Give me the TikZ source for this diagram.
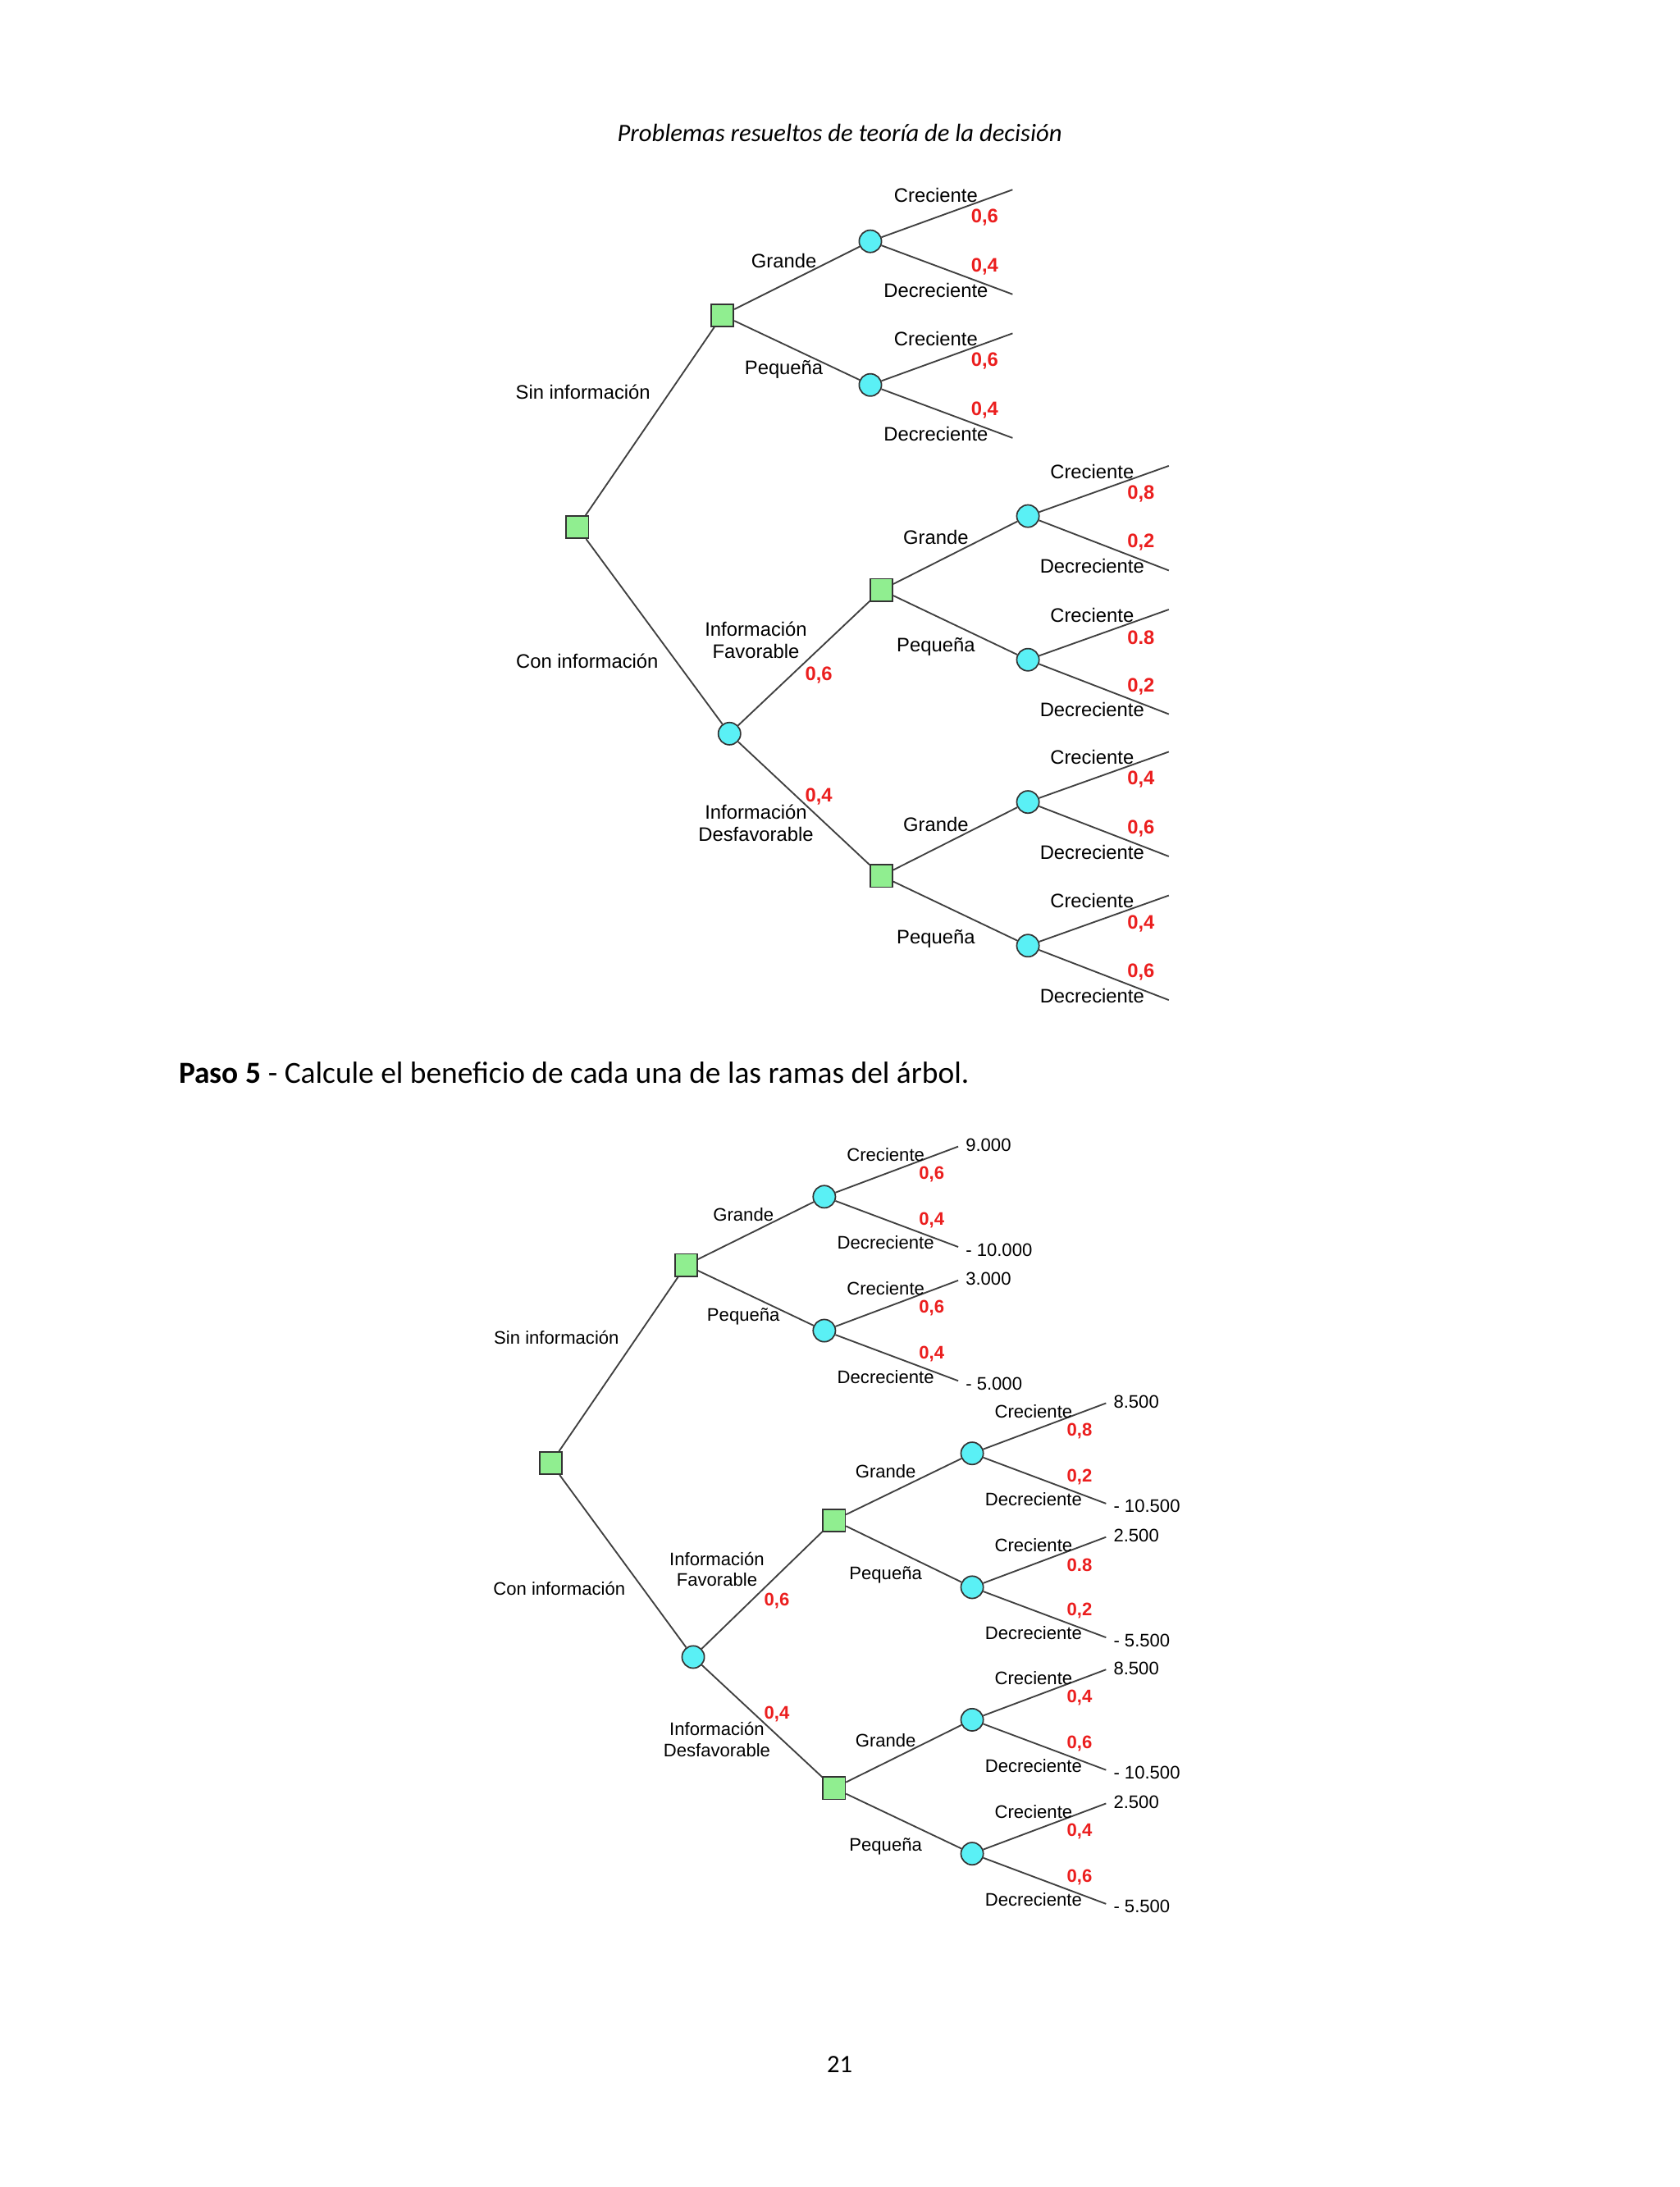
\documentclass[tikz,border=0pt]{standalone}
\usepackage{fontspec}
\setmainfont{Carlito}
\newfontfamily\arial{Liberation Sans}
\definecolor{sqg}{RGB}{144,238,144}
\definecolor{cyc}{RGB}{90,240,245}
\definecolor{pr}{RGB}{235,30,30}
\tikzset{
 dec/.style={draw=black!80,fill=sqg,minimum size=8pt,inner sep=0pt,line width=0.5pt},
 chn/.style={circle,draw=black!80,fill=cyc,minimum size=8pt,inner sep=0pt,line width=0.5pt},
 br/.style={draw=black!75,line width=0.55pt},
 lbA/.style={font=\arial\fontsize{7}{8}\selectfont,inner sep=0pt,align=center},
 lbB/.style={font=\arial\fontsize{6.5}{7.5}\selectfont,inner sep=0pt,align=center},
 pA/.style={font=\arial\bfseries\fontsize{7}{8}\selectfont,text=pr,inner sep=0pt},
 pB/.style={font=\arial\bfseries\fontsize{6.5}{7.5}\selectfont,text=pr,inner sep=0pt},
 vB/.style={font=\arial\fontsize{6.5}{7.5}\selectfont,inner sep=0pt,anchor=west}
}
\begin{document}
\begin{tikzpicture}[x=0.5pt,y=-0.5pt]
\useasboundingbox (0,0) rectangle (1204,1568);
\node at (602,95) {\itshape\fontsize{9}{11}\selectfont Problemas resueltos de teoría de la decisión};
\node[anchor=west,inner sep=0pt] at (128,769) {\fontsize{11}{13}\selectfont\textbf{Paso 5} - Calcule el beneficio de cada una de las ramas del árbol.};
\node at (602,1480) {\fontsize{9}{11}\selectfont 21};
% ---------- Tree 1 ----------
\node[dec] (r1) at (414,378) {};
\node[dec] (a1) at (518,226) {};
\node[chn] (b1) at (523,526) {};
\node[chn] (a1g) at (624,173) {};
\node[chn] (a1p) at (624,276) {};
\node[dec] (c1) at (632,423) {};
\node[dec] (d1) at (632,628) {};
\node[chn] (c1g) at (737,370) {};
\node[chn] (c1p) at (737,473) {};
\node[chn] (d1g) at (737,575) {};
\node[chn] (d1p) at (737,678) {};
\draw[br] (r1)--(a1); \draw[br] (r1)--(b1);
\draw[br] (a1)--(a1g); \draw[br] (a1)--(a1p);
\draw[br] (b1)--(c1); \draw[br] (b1)--(d1);
\draw[br] (c1)--(c1g); \draw[br] (c1)--(c1p);
\draw[br] (d1)--(d1g); \draw[br] (d1)--(d1p);
\node[lbA] at (418,281) {Sin información};
\node[lbA] at (421,474) {Con información};
\node[lbA] at (562,187) {Grande};
\node[lbA] at (562,265) {Pequeña};
\node[lbA] at (542,459) {Información\\Favorable};
\node[lbA] at (542,590) {Información\\Desfavorable};
\node[pA] at (587,484) {0,6};
\node[pA] at (587,571) {0,4};
\node[lbA] at (671,385) {Grande};
\node[lbA] at (671,464) {Pequeña};
\node[lbA] at (671,591) {Grande};
\node[lbA] at (671,673) {Pequeña};
\foreach \n/\x/\y/\pa/\pb in {a1g/726/173/{0,6}/{0,4}, a1p/726/276/{0,6}/{0,4}, c1g/838/371/{0,8}/{0,2}, c1p/838/474/{0.8}/{0,2}, d1g/838/576/{0,4}/{0,6}, d1p/838/679/{0,4}/{0,6}}{
  \coordinate (\n u) at (\x,\y-37);
  \coordinate (\n d) at (\x,\y+38);
  \draw[br] (\n)--(\n u); \draw[br] (\n)--(\n d);
  \node[lbA] at (\x-55,\y-33) {Creciente};
  \node[lbA] at (\x-55,\y+35) {Decreciente};
  \node[pA] at (\x-20,\y-17) {\pa};
  \node[pA] at (\x-20,\y+18) {\pb};
}
% ---------- Tree 2 ----------
\node[dec] (r2) at (395,1049) {};
\node[dec] (a2) at (492,907) {};
\node[chn] (b2) at (497,1188) {};
\node[chn] (a2g) at (591,858) {};
\node[chn] (a2p) at (591,954) {};
\node[dec] (c2) at (598,1090) {};
\node[dec] (d2) at (598,1282) {};
\node[chn] (c2g) at (697,1042) {};
\node[chn] (c2p) at (697,1138) {};
\node[chn] (d2g) at (697,1233) {};
\node[chn] (d2p) at (697,1329) {};
\draw[br] (r2)--(a2); \draw[br] (r2)--(b2);
\draw[br] (a2)--(a2g); \draw[br] (a2)--(a2p);
\draw[br] (b2)--(c2); \draw[br] (b2)--(d2);
\draw[br] (c2)--(c2g); \draw[br] (c2)--(c2p);
\draw[br] (d2)--(d2g); \draw[br] (d2)--(d2p);
\node[lbB] at (399,959) {Sin información};
\node[lbB] at (401,1139) {Con información};
\node[lbB] at (533,871) {Grande};
\node[lbB] at (533,944) {Pequeña};
\node[lbB] at (514,1125) {Información\\Favorable};
\node[lbB] at (514,1247) {Información\\Desfavorable};
\node[pB] at (557,1148) {0,6};
\node[pB] at (557,1229) {0,4};
\node[lbB] at (635,1055) {Grande};
\node[lbB] at (635,1129) {Pequeña};
\node[lbB] at (635,1248) {Grande};
\node[lbB] at (635,1324) {Pequeña};
\foreach \n/\x/\y/\pa/\pb/\va/\vb in {a2g/687/858/{0,6}/{0,4}/9.000/- 10.000, a2p/687/954/{0,6}/{0,4}/3.000/- 5.000, c2g/793/1042/{0,8}/{0,2}/8.500/- 10.500, c2p/793/1138/{0.8}/{0,2}/2.500/- 5.500, d2g/793/1233/{0,4}/{0,6}/8.500/- 10.500, d2p/793/1329/{0,4}/{0,6}/2.500/- 5.500}{
  \coordinate (\n u) at (\x,\y-36);
  \coordinate (\n d) at (\x,\y+36);
  \draw[br] (\n)--(\n u); \draw[br] (\n)--(\n d);
  \node[lbB] at (\x-52,\y-30) {Creciente};
  \node[lbB] at (\x-52,\y+33) {Decreciente};
  \node[pB] at (\x-19,\y-16) {\pa};
  \node[pB] at (\x-19,\y+17) {\pb};
  \node[vB] at (\x+5,\y-37) {\va};
  \node[vB] at (\x+5,\y+38) {\vb};
}
\end{tikzpicture}
\end{document}
